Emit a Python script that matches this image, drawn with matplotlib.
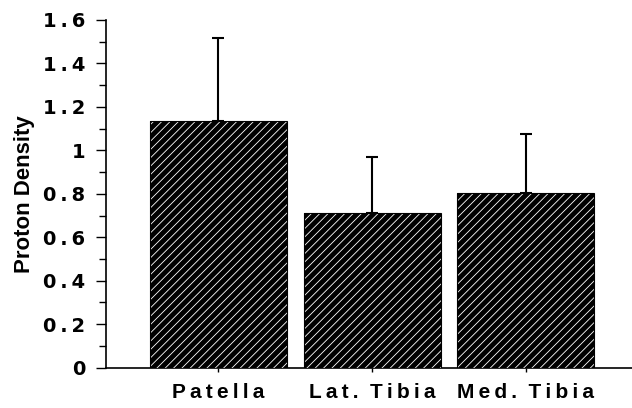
import matplotlib
matplotlib.use('Agg')
import matplotlib.pyplot as plt
from matplotlib.ticker import MultipleLocator, FuncFormatter

categories = ['Patella', 'Lat. Tibia', 'Med. Tibia']
means = [1.137, 0.713, 0.805]
errUp = [0.38, 0.255, 0.268]

plt.rcParams['hatch.linewidth'] = 0.6
plt.rcParams['hatch.color'] = 'white'

THIN = '\u2009'

def spaced(s, gap='  '):
  # old typewriter-like letter spacing of the original
  return gap.join(THIN.join(w) for w in s.split())

fig = plt.figure(figsize=(6.32, 4.08), dpi=100)
ax = fig.add_axes([0.168, 0.099, 0.832, 0.852])

x = list(range(len(categories)))
ax.bar(x, means, width=0.89, color='black', linewidth=0, zorder=2)
ax.bar(x, means, width=0.89, facecolor='none', edgecolor='white',
       hatch='////', linewidth=0, zorder=3)
ax.bar(x, means, width=0.89, fill=False, edgecolor='black',
       linewidth=0.8, zorder=4)
ax.errorbar(x, means, yerr=[[0]*len(means), errUp], fmt='none',
            ecolor='black', elinewidth=1.5, capsize=4, capthick=1.5,
            zorder=1)

ax.set_xlim(-0.73, 2.69)
ax.set_ylim(0, 1.6)
ax.yaxis.set_major_locator(MultipleLocator(0.2))
ax.yaxis.set_minor_locator(MultipleLocator(0.1))
ax.yaxis.set_major_formatter(FuncFormatter(
    lambda v, p: spaced('%g' % round(v, 1))))
ax.set_xticks(x)
ax.set_xticklabels([spaced(c) for c in categories], fontsize=15,
                   fontweight='bold', family=['Liberation Sans', 'DejaVu Sans'])
ax.tick_params(axis='x', length=3, width=1, pad=8)
ax.tick_params(axis='y', which='major', length=7, width=1, pad=8)
ax.tick_params(axis='y', which='minor', length=5, width=1)
for lab in ax.get_yticklabels():
  lab.set_fontsize(14)
  lab.set_fontweight('bold')
  lab.set_family(['DejaVu Sans'])

ax.spines['top'].set_visible(False)
ax.spines['right'].set_visible(False)
ax.spines['left'].set_linewidth(1.2)
ax.spines['bottom'].set_linewidth(1.2)
ax.set_ylabel('Proton Density', fontsize=16, fontweight='bold',
              family=['Liberation Sans', 'DejaVu Sans'], labelpad=6)

fig.savefig('out.png', dpi=100)
